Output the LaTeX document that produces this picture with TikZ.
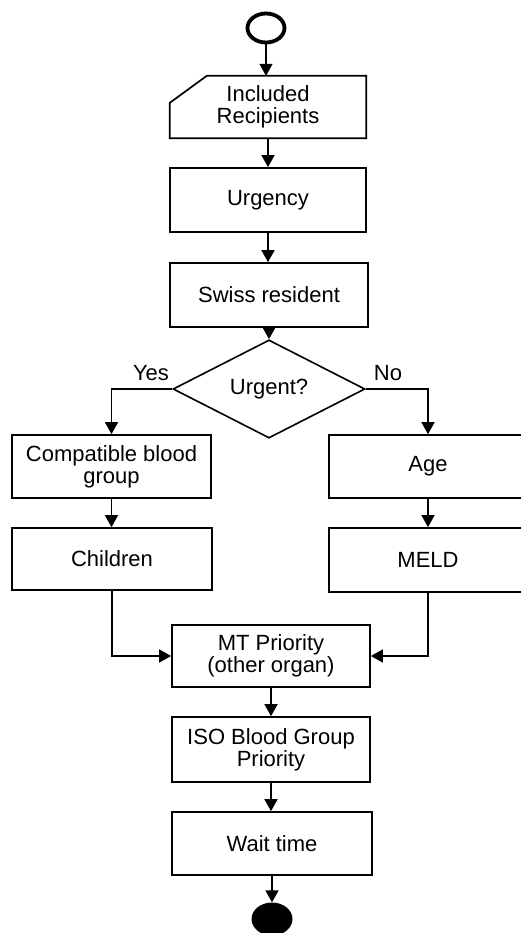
\documentclass[tikz,border=0pt]{standalone}
\usepackage{fontspec}
\setmainfont{Liberation Sans}
\usetikzlibrary{arrows.meta,shapes.geometric,calc}
\begin{document}
\begin{tikzpicture}[x=1pt,y=-1pt,
  txt/.style={font=\fontsize{22}{22}\selectfont, align=center},
  box/.style={txt, draw, line width=1.7pt, minimum width=198pt, minimum height=63pt, inner sep=0pt},
  arr/.style={line width=1.6pt, -{Triangle[length=12pt,width=13pt]}},
  conn/.style={line width=1.6pt}]
\useasboundingbox (0,0) rectangle (521,933);
\clip (0,0) rectangle (521,933);

% start / end
\node[ellipse, draw, line width=3.8pt, minimum width=37pt, minimum height=29pt, inner sep=0pt] (start) at (266,28) {};
\node[ellipse, fill=black, minimum width=41pt, minimum height=33pt, inner sep=0pt] (stop) at (272,919) {};

% card: Included Recipients
\node[txt, minimum width=196pt, minimum height=62pt, inner sep=0pt] (inc) at (268,107) {Included\\Recipients};
\draw[line width=1.7pt] (inc.south west) -- ($(inc.north west)+(0,27)$) -- ($(inc.north west)+(37,0)$) -- (inc.north east) -- (inc.south east) -- cycle;

\node[box, minimum width=196pt, minimum height=64pt] (urg) at (268,200) {Urgency};
\node[box, minimum height=64pt] (swiss) at (269,295) {Swiss resident};
\node[txt, diamond, draw, line width=1.6pt, minimum width=192pt, minimum height=62pt, inner sep=0pt] (dia) at (269,389) {Urgent?};
\node[txt] (yes) at (151,373) {Yes};
\node[txt] (no) at (388,373) {No};

\node[box, minimum width=199pt] (comp) at (111.5,466.5) {Compatible blood\\group};
\node[box, minimum width=200pt, minimum height=62pt] (child) at (112,559) {Children};
\node[box] (age) at (428,466.5) {Age};
\node[box, minimum height=64pt] (meld) at (428,560) {MELD};

\node[box, minimum height=62pt] (mt) at (271,656) {MT Priority\\(other organ)};
\node[box, minimum height=65pt] (iso) at (271,749.5) {ISO Blood Group\\Priority};
\node[box, minimum width=200pt] (wait) at (272,843.5) {Wait time};

% connectors
\draw[arr] (start.south) -- (start.south |- inc.north);
\draw[arr] (inc.south) -- (urg.north);
\draw[arr] (urg.south) -- (urg.south |- swiss.north);
\draw[arr] (swiss.south) -- (dia.north);
\draw[arr] (dia.west) -| (comp.north);
\draw[arr] (dia.east) -| (age.north);
\draw[arr] (comp.south) -- (comp.south |- child.north);
\draw[arr] (age.south) -- (age.south |- meld.north);
\draw[arr] (child.south) |- (mt.west);
\draw[arr] (meld.south) |- (mt.east);
\draw[arr] (mt.south) -- (iso.north);
\draw[arr] (iso.south) -- (iso.south |- wait.north);
\draw[arr] (wait.south) -- (wait.south |- stop.north);
\end{tikzpicture}
\end{document}
